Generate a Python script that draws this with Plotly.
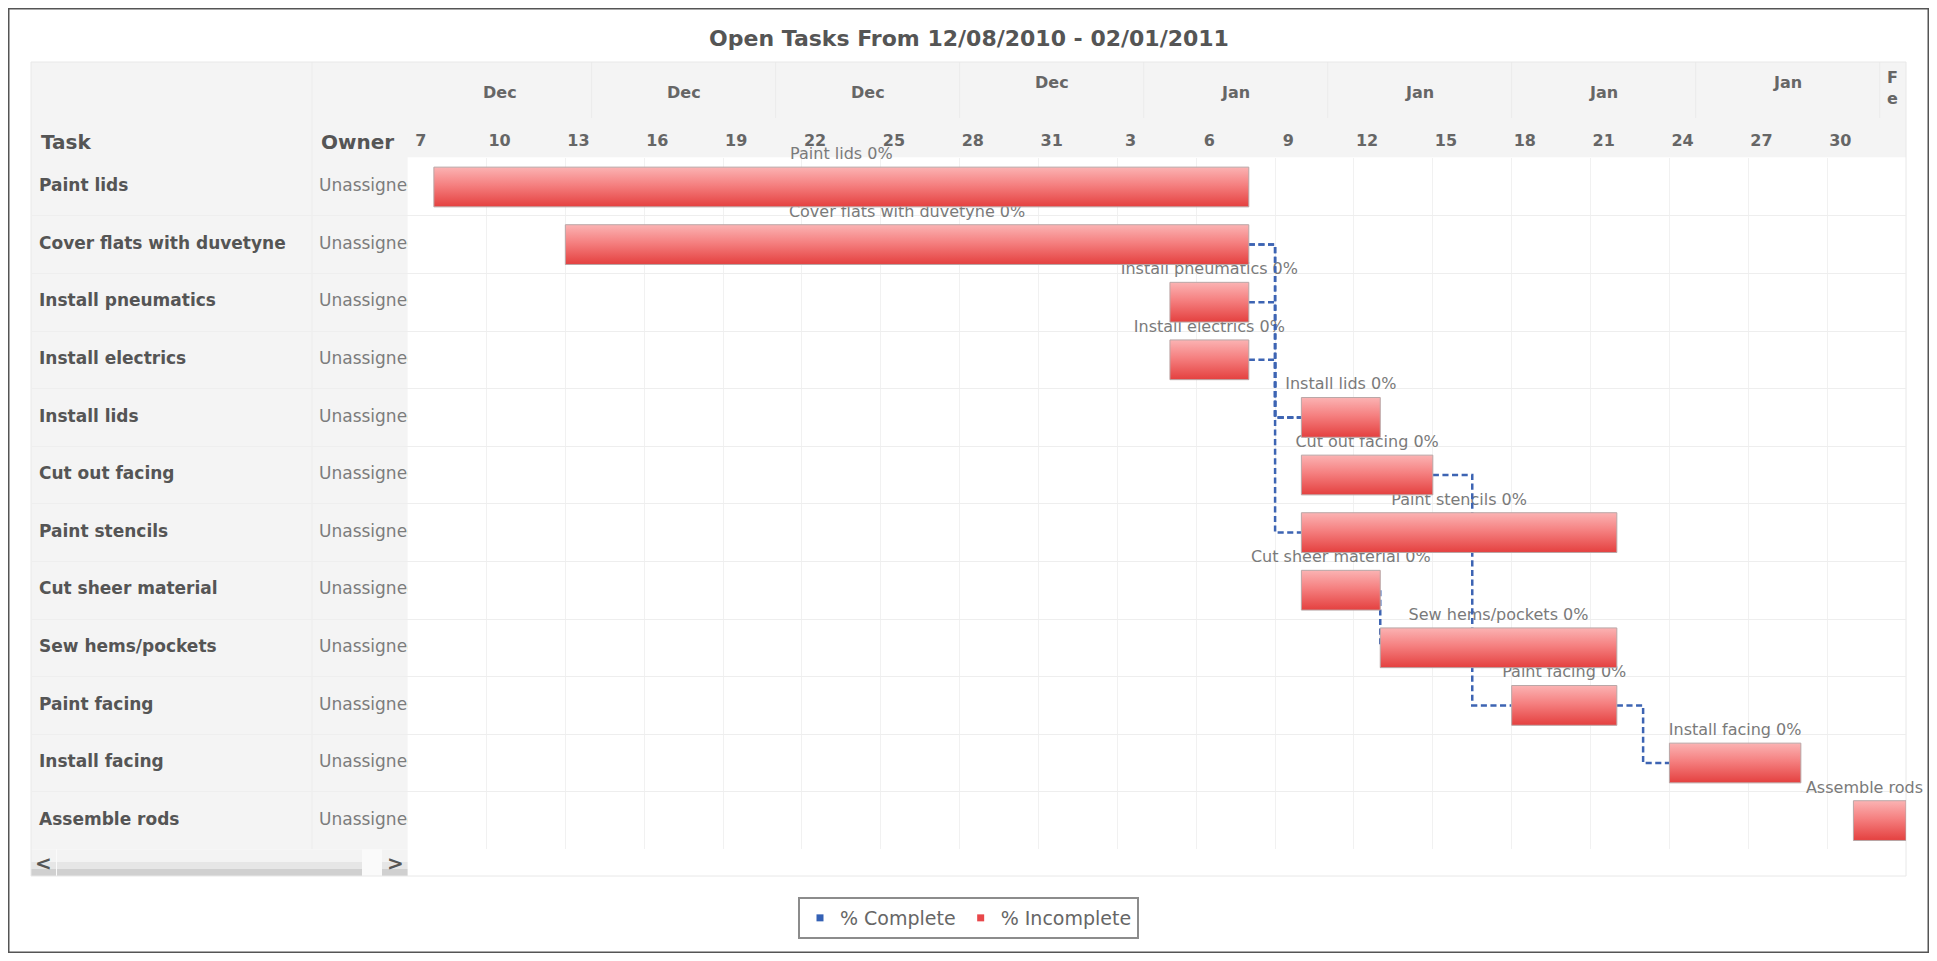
import plotly.graph_objects as go
import pandas as pd

# ---------------- data ----------------
TITLE = "Open Tasks From 12/08/2010 - 02/01/2011"

tasks = ["Paint lids", "Cover flats with duvetyne", "Install pneumatics",
         "Install electrics", "Install lids", "Cut out facing", "Paint stencils",
         "Cut sheer material", "Sew hems/pockets", "Paint facing",
         "Install facing", "Assemble rods"]
owners = ["Unassigned"] * 12
starts = ["2010-12-08", "2010-12-13", "2011-01-05", "2011-01-05", "2011-01-10",
          "2011-01-10", "2011-01-10", "2011-01-10", "2011-01-13", "2011-01-18",
          "2011-01-24", "2011-01-31"]
# last working day of each task (inclusive)
ends = ["2011-01-07", "2011-01-07", "2011-01-07", "2011-01-07", "2011-01-12",
        "2011-01-14", "2011-01-21", "2011-01-12", "2011-01-21", "2011-01-21",
        "2011-01-28", "2011-02-01"]
pct_complete = [0, 0, 0, 0, 0, 0, 0, 0, 0, 0, 0, 0]
# (predecessor index, successor index)
dependencies = [(1, 4), (2, 4), (3, 4), (1, 6), (5, 9), (7, 8), (9, 10)]

axis_range = ["2010-12-07", "2011-02-02"]
day_tick_dates = ["2010-12-07", "2010-12-10", "2010-12-13", "2010-12-16", "2010-12-19",
                  "2010-12-22", "2010-12-25", "2010-12-28", "2010-12-31", "2011-01-03",
                  "2011-01-06", "2011-01-09", "2011-01-12", "2011-01-15", "2011-01-18",
                  "2011-01-21", "2011-01-24", "2011-01-27", "2011-01-30"]
day_tick_labels = ["7", "10", "13", "16", "19", "22", "25", "28", "31", "3",
                   "6", "9", "12", "15", "18", "21", "24", "27", "30"]
week_starts = ["2010-12-07", "2010-12-14", "2010-12-21", "2010-12-28", "2011-01-04",
               "2011-01-11", "2011-01-18", "2011-01-25", "2011-02-01"]
month_labels = ["Dec", "Dec", "Dec", "Dec", "Jan", "Jan", "Jan", "Jan", "Feb"]
legend_names = ["% Complete", "% Incomplete"]

# ---------------- style ----------------
FONT = "DejaVu Sans"
W, H = 1921, 945          # figure size (page adds 8px body margin)
OFF = 8
RAISED_WEEKS = {3, 7}
BAR_HALF = 0.345
LABEL_LIFT = 0.07
DAY = pd.Timedelta(days=1)


def fx(px):
    return (px - OFF) / W


def fy(py):
    return 1 - (py - OFF) / H


PLOT_L, PLOT_R = 407.6, 1906
ROW_TOP, ROW_H = 158.2, 57.6
n = len(tasks)
ROW_BOT = ROW_TOP + n * ROW_H
TABLE_L = 31

s_dt = pd.to_datetime(starts)
e_dt = pd.to_datetime(ends) + DAY      # exclusive end
rng0, rng1 = pd.to_datetime(axis_range[0]), pd.to_datetime(axis_range[1])

fig = go.Figure()

# bar labels (under connectors)
mids = [s + (e - s) / 2 for s, e in zip(s_dt, e_dt)]
fig.add_trace(go.Scatter(
    x=mids, y=[i - BAR_HALF - LABEL_LIFT for i in range(n)],
    text=[f"{t} {p}%" for t, p in zip(tasks, pct_complete)],
    mode="text", textposition="top center", cliponaxis=False,
    textfont=dict(family=FONT, size=16, color="#7a7a7a"),
    showlegend=False, hoverinfo="skip"))

# dependency connectors
for p, s in dependencies:
    pe, ss = e_dt[p], s_dt[s]
    mid = pe + (ss - pe) / 2
    fig.add_trace(go.Scatter(
        x=[pe, mid, mid, ss], y=[p, p, s, s], mode="lines",
        line=dict(color="#3d64b3", width=2.5, dash="6.1px,3.5px"),
        showlegend=False, hoverinfo="skip"))

# bars with vertical gradient
for i in range(n):
    s, e = s_dt[i], e_dt[i]
    y0, y1 = i - BAR_HALF, i + BAR_HALF
    fig.add_trace(go.Scatter(
        x=[s, e, e, s, s], y=[y0, y0, y1, y1, y0], mode="lines",
        fill="toself",
        fillgradient=dict(type="vertical", start=y0, stop=y1,
                          colorscale=[[0, "#fbb3b3"], [0.45, "#f58080"],
                                      [1, "#e4403f"]]),
        line=dict(color="#b9a6a6", width=1),
        showlegend=False, hoverinfo="text",
        text=f"{tasks[i]}: {starts[i]} - {ends[i]}"))

# left table (task / owner columns), clipped to its own subplot
fig.add_trace(go.Scatter(
    x=[8] * n, y=list(range(n)), xaxis="x2", yaxis="y",
    text=[f"<b>{t}</b>" for t in tasks], mode="text",
    textposition="middle right", cliponaxis=True,
    textfont=dict(family=FONT, size=17, color="#555555"),
    showlegend=False, hoverinfo="skip"))
fig.add_trace(go.Scatter(
    x=[288] * n, y=list(range(n)), xaxis="x2", yaxis="y",
    text=owners, mode="text", textposition="middle right", cliponaxis=True,
    textfont=dict(family=FONT, size=17, color="#7c7c7c"),
    showlegend=False, hoverinfo="skip"))

# legend entries
for name, col in zip(legend_names, ["#3461b5", "#e8474a"]):
    fig.add_trace(go.Scatter(
        x=[None], y=[None], mode="markers", name=name,
        marker=dict(symbol="square", size=7, color=col)))

# ---------------- shapes ----------------
shapes = []
# header band
shapes.append(dict(type="rect", xref="paper", yref="paper", layer="below",
                   x0=fx(TABLE_L), x1=fx(PLOT_R), y0=fy(ROW_TOP - 1), y1=fy(62),
                   fillcolor="#f4f4f4", line=dict(width=0)))
# table background
shapes.append(dict(type="rect", xref="paper", yref="paper", layer="below",
                   x0=fx(TABLE_L), x1=fx(PLOT_L), y0=fy(ROW_BOT), y1=fy(62),
                   fillcolor="#f4f4f4", line=dict(width=0)))
# column separator
shapes.append(dict(type="line", xref="paper", yref="paper", layer="below",
                   x0=fx(312), x1=fx(312), y0=fy(ROW_BOT), y1=fy(62),
                   line=dict(color="#ececec", width=1)))
# week separators in header month row
for w in week_starts[1:]:
    shapes.append(dict(type="line", xref="x", yref="paper", layer="below",
                       x0=w, x1=w, y0=fy(118), y1=fy(62),
                       line=dict(color="#ebebeb", width=1)))
# scrollbar
SB0, SB1 = ROW_BOT, 876
shapes.append(dict(type="rect", xref="paper", yref="paper", layer="below",
                   x0=fx(TABLE_L), x1=fx(PLOT_L), y0=fy(SB1), y1=fy(SB0),
                   fillcolor="#fafafa", line=dict(width=0)))
for a, b in [(TABLE_L, 56), (57, 362), (382, PLOT_L)]:
    for t0, t1, c in [(SB0, 862, "#f3f3f3"), (862, 869, "#e6e6e6"),
                      (869, SB1, "#d0d0d0")]:
        shapes.append(dict(type="rect", xref="paper", yref="paper", layer="below",
                           x0=fx(a), x1=fx(b), y0=fy(t1), y1=fy(t0),
                           fillcolor=c, line=dict(width=0)))
# chart outline
shapes.append(dict(type="rect", xref="paper", yref="paper", layer="below",
                   x0=fx(TABLE_L), x1=fx(PLOT_R), y0=fy(876), y1=fy(62),
                   line=dict(color="#e8e8e8", width=1)))
# outer border
shapes.append(dict(type="rect", xref="paper", yref="paper", layer="above",
                   x0=0, x1=1, y0=0, y1=1, line=dict(color="#555555", width=3)))

# ---------------- annotations ----------------
ann = []
ann.append(dict(text="<b>Task</b>", x=fx(39), y=fy(142), xref="paper", yref="paper",
                xanchor="left", yanchor="middle", showarrow=False,
                font=dict(family=FONT, size=20, color="#555555")))
ann.append(dict(text="<b>Owner</b>", x=fx(319), y=fy(142), xref="paper", yref="paper",
                xanchor="left", yanchor="middle", showarrow=False,
                font=dict(family=FONT, size=20, color="#555555")))
for k, (w, lbl) in enumerate(zip(week_starts, month_labels)):
    w0 = pd.to_datetime(w)
    w1 = min(w0 + 7 * DAY, rng1)
    cx = w0 + (w1 - w0) / 2
    txt = lbl
    ypx = 92
    if (w1 - w0) < 2 * DAY:
        txt = "<br>".join(lbl[:2])
        ypx = 88
    elif k in RAISED_WEEKS:
        ypx = 82
    ann.append(dict(text=f"<b>{txt}</b>", x=cx, y=fy(ypx), xref="x", yref="paper",
                    xanchor="center", yanchor="middle", showarrow=False,
                    font=dict(family=FONT, size=16, color="#666666")))
ann.append(dict(text="<b>&lt;</b>", x=fx(43), y=fy(863), xref="paper", yref="paper",
                xanchor="center", yanchor="middle", showarrow=False,
                font=dict(family=FONT, size=20, color="#555555")))
ann.append(dict(text="<b>&gt;</b>", x=fx(395), y=fy(863), xref="paper", yref="paper",
                xanchor="center", yanchor="middle", showarrow=False,
                font=dict(family=FONT, size=20, color="#555555")))

tick_pos = [pd.to_datetime(d) + DAY / 2 for d in day_tick_dates]

fig.update_layout(
    width=W, height=H, autosize=False,
    margin=dict(l=0, r=0, t=0, b=0, pad=0),
    paper_bgcolor="white", plot_bgcolor="rgba(0,0,0,0)",
    font=dict(family=FONT, color="#666666"),
    title=dict(text=f"<b>{TITLE}</b>", x=fx(969), xanchor="center",
               y=fy(38), yanchor="middle", xref="paper", yref="paper",
               font=dict(family=FONT, size=22, color="#555555")),
    xaxis=dict(type="date", domain=[fx(PLOT_L), fx(PLOT_R)], range=axis_range,
               side="top", anchor="y", tickmode="array", tickvals=tick_pos,
               ticktext=[f"<b>{t}</b>" for t in day_tick_labels],
               tickfont=dict(family=FONT, size=16, color="#666666"),
               ticks="", ticklabelstandoff=8, showgrid=False, zeroline=False,
               showline=False, fixedrange=True,
               minor=dict(tickmode="linear", tick0=axis_range[0],
                          dtick=3 * 86400000, showgrid=True,
                          gridcolor="#f1f1f1", gridwidth=1, ticks="")),
    xaxis2=dict(domain=[fx(TABLE_L), fx(PLOT_L)], range=[0, PLOT_L - TABLE_L],
                anchor="y", visible=False, fixedrange=True),
    yaxis=dict(domain=[fy(ROW_BOT), fy(ROW_TOP)], range=[n - 0.5, -0.5],
               anchor="x", showticklabels=False, showgrid=False, zeroline=False,
               showline=False, ticks="", tickmode="array",
               tickvals=list(range(n)), fixedrange=True,
               minor=dict(tickmode="array",
                          tickvals=[i + 0.5 for i in range(n - 1)],
                          showgrid=True, gridcolor="#eeeeee", ticks="")),
    legend=dict(orientation="h", x=0.5, xanchor="center", y=fy(918),
                yanchor="middle", bgcolor="white", bordercolor="#8c8c8c",
                borderwidth=2, font=dict(family=FONT, size=19, color="#666666"),
                itemsizing="trace"),
    shapes=shapes, annotations=ann,
)

fig.write_html("out.html")
